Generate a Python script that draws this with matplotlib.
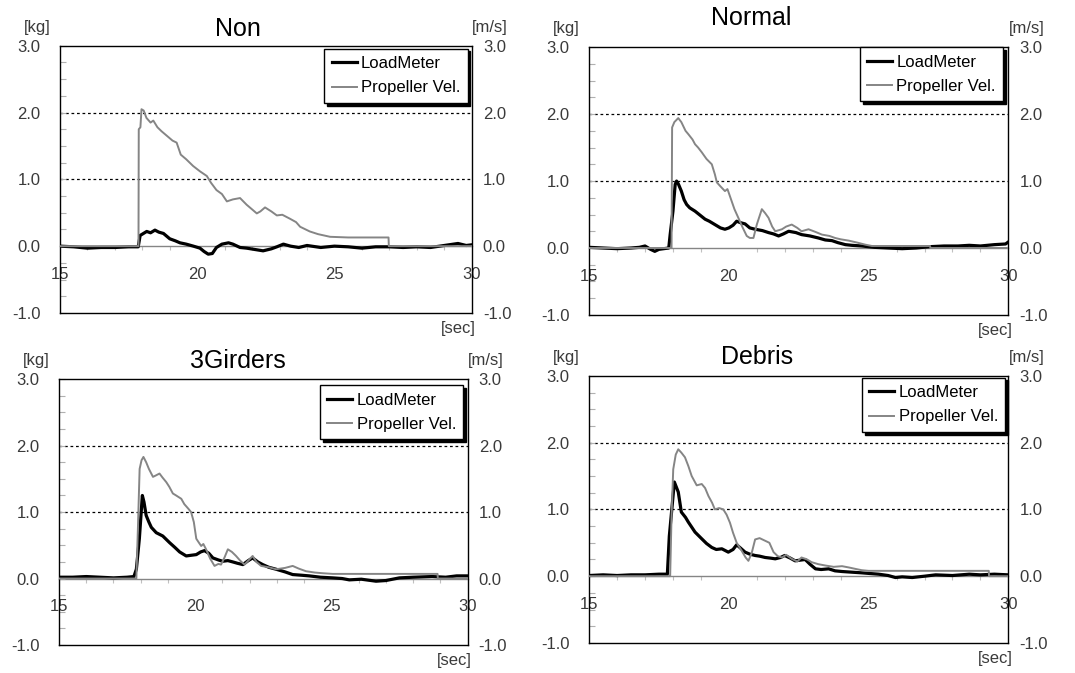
import matplotlib
matplotlib.use("Agg")
import matplotlib.pyplot as plt
from matplotlib.ticker import MultipleLocator, FixedLocator

plt.rcParams['font.family'] = ['Liberation Sans', 'DejaVu Sans']

titles = ["Non", "Normal", "3Girders", "Debris"]
legend_labels = ["LoadMeter", "Propeller Vel."]
x_ticks = [15, 20, 25, 30]
y_ticks = [-1.0, 0.0, 1.0, 2.0, 3.0]
y_tick_labels = ["-1.0", "0.0", "1.0", "2.0", "3.0"]

# ---- Non ----
non_prop_t = [15, 17.86, 17.87, 17.93, 17.97, 18.05, 18.15, 18.3, 18.4, 18.55, 18.7, 18.9, 19.1, 19.25, 19.4,
              19.6, 19.85, 20.1, 20.35, 20.5, 20.7, 20.9, 21.08, 21.3, 21.56, 21.8, 22.0, 22.17, 22.3, 22.47,
              22.7, 22.9, 23.1, 23.38, 23.6, 23.75, 23.95, 24.1, 24.4, 24.84, 25.5, 26.2, 26.97, 26.98, 30]
non_prop_v = [0, 0, 1.75, 1.78, 2.05, 2.03, 1.92, 1.85, 1.88, 1.78, 1.72, 1.65, 1.58, 1.55, 1.37,
              1.30, 1.20, 1.12, 1.05, 0.95, 0.84, 0.78, 0.67, 0.70, 0.72, 0.62, 0.55, 0.49, 0.52, 0.58,
              0.52, 0.46, 0.47, 0.41, 0.36, 0.29, 0.25, 0.22, 0.18, 0.14, 0.13, 0.13, 0.13, 0.0, 0.0]
non_load_t = [15, 15.5, 16.0, 16.5, 17.0, 17.5, 17.85, 17.92, 18.0, 18.16, 18.3, 18.46, 18.6, 18.77, 19.0,
              19.2, 19.37, 19.6, 19.86, 20.1, 20.25, 20.4, 20.55, 20.7, 20.9, 21.14, 21.3, 21.56, 21.8, 22.1,
              22.4, 22.7, 22.9, 23.14, 23.4, 23.7, 24.0, 24.5, 25.0, 25.5, 26.0, 26.5, 27.0, 27.5, 28.0,
              28.5, 29.0, 29.5, 29.8, 30]
non_load_v = [0.0, -0.01, -0.03, -0.02, -0.02, -0.01, -0.01, 0.16, 0.18, 0.22, 0.20, 0.24, 0.21, 0.19, 0.11,
              0.08, 0.05, 0.03, 0.0, -0.03, -0.08, -0.12, -0.11, -0.02, 0.03, 0.05, 0.03, -0.02, -0.03, -0.05,
              -0.07, -0.04, -0.01, 0.03, 0.0, -0.02, 0.01, -0.02, 0.0, -0.01, -0.03, -0.01, -0.01, -0.02, -0.01,
              -0.02, 0.01, 0.04, 0.01, 0.02]

# ---- Normal ----
normal_prop_t = [15, 17.95, 17.97, 18.05, 18.19, 18.3, 18.45, 18.55, 18.7, 18.79, 18.9, 19.03, 19.2, 19.39,
                 19.5, 19.57, 19.7, 19.86, 19.95, 20.1, 20.2, 20.34, 20.5, 20.64, 20.75, 20.88, 21.0, 21.18,
                 21.3, 21.42, 21.55, 21.66, 21.9, 22.05, 22.25, 22.45, 22.6, 22.85, 23.1, 23.33, 23.6, 23.8,
                 24.0, 24.29, 24.6, 24.88, 25.12, 26.0, 27.2, 27.21, 30]
normal_prop_v = [0, 0, 1.80, 1.88, 1.94, 1.88, 1.75, 1.70, 1.62, 1.55, 1.50, 1.43, 1.33, 1.25,
                 1.10, 0.98, 0.92, 0.85, 0.88, 0.70, 0.58, 0.45, 0.30, 0.18, 0.15, 0.15, 0.35, 0.58,
                 0.52, 0.45, 0.32, 0.25, 0.28, 0.32, 0.35, 0.30, 0.25, 0.28, 0.24, 0.20, 0.18, 0.15,
                 0.13, 0.11, 0.08, 0.05, 0.03, 0.03, 0.03, 0.0, 0.0]
normal_load_t = [15, 15.5, 16.0, 16.5, 16.8, 17.0, 17.2, 17.35, 17.5, 17.85, 17.9, 18.0, 18.08, 18.13, 18.2,
                 18.3, 18.4, 18.49, 18.6, 18.79, 19.0, 19.15, 19.3, 19.5, 19.7, 19.86, 20.0, 20.15, 20.28,
                 20.4, 20.58, 20.75, 20.94, 21.2, 21.42, 21.6, 21.78, 21.95, 22.14, 22.4, 22.6, 22.9, 23.2,
                 23.45, 23.69, 23.9, 24.17, 24.4, 24.76, 25.2, 25.7, 26.2, 26.7, 27.2, 27.7, 28.2, 28.6,
                 29.0, 29.5, 29.9, 30]
normal_load_v = [0.01, 0.0, -0.01, 0.0, 0.01, 0.03, -0.02, -0.05, -0.02, 0.0, 0.2, 0.55, 0.95, 1.0, 0.95,
                 0.85, 0.72, 0.65, 0.60, 0.55, 0.48, 0.43, 0.40, 0.35, 0.30, 0.28, 0.30, 0.34, 0.40,
                 0.38, 0.36, 0.30, 0.28, 0.26, 0.23, 0.21, 0.18, 0.21, 0.25, 0.23, 0.20, 0.18, 0.15,
                 0.12, 0.11, 0.08, 0.05, 0.04, 0.03, 0.01, 0.0, -0.01, 0.0, 0.02, 0.03, 0.03, 0.04,
                 0.03, 0.05, 0.06, 0.09]

# ---- 3Girders ----
girders_prop_t = [15, 17.84, 17.9, 17.96, 18.03, 18.1, 18.2, 18.3, 18.45, 18.55, 18.69, 18.8, 18.94, 19.05,
                  19.18, 19.3, 19.49, 19.6, 19.75, 19.85, 19.95, 20.04, 20.12, 20.22, 20.3, 20.4, 20.55,
                  20.71, 20.85, 20.95, 21.08, 21.2, 21.35, 21.5, 21.65, 21.81, 21.95, 22.11, 22.25, 22.42,
                  22.7, 22.97, 23.3, 23.58, 23.8, 24.07, 24.4, 24.68, 25.05, 26.5, 28.9, 28.91, 30]
girders_prop_v = [0, 0, 0.8, 1.65, 1.78, 1.83, 1.75, 1.65, 1.53, 1.55, 1.58, 1.52, 1.45, 1.38,
                  1.28, 1.25, 1.20, 1.12, 1.05, 1.0, 0.85, 0.60, 0.55, 0.49, 0.52, 0.44, 0.30,
                  0.19, 0.22, 0.21, 0.32, 0.44, 0.40, 0.34, 0.27, 0.21, 0.27, 0.34, 0.25, 0.19,
                  0.17, 0.14, 0.16, 0.19, 0.15, 0.11, 0.09, 0.08, 0.07, 0.07, 0.07, 0.0, 0.0]
girders_load_t = [15, 15.5, 16.0, 16.5, 17.0, 17.5, 17.75, 17.84, 17.95, 18.06, 18.12, 18.2, 18.3, 18.39,
                  18.57, 18.81, 19.06, 19.25, 19.43, 19.67, 19.85, 20.04, 20.2, 20.34, 20.5, 20.65, 20.85,
                  21.01, 21.2, 21.38, 21.55, 21.75, 21.95, 22.11, 22.3, 22.48, 22.7, 22.97, 23.3, 23.58,
                  23.9, 24.19, 24.6, 25.05, 25.4, 25.66, 26.1, 26.64, 27.0, 27.5, 28.0, 28.7, 29.2, 29.6, 30]
girders_load_v = [0.02, 0.02, 0.03, 0.02, 0.01, 0.02, 0.03, 0.14, 0.6, 1.25, 1.15, 0.95, 0.85, 0.77,
                  0.69, 0.64, 0.54, 0.47, 0.40, 0.34, 0.35, 0.36, 0.40, 0.42, 0.38, 0.31, 0.28,
                  0.26, 0.27, 0.25, 0.23, 0.21, 0.27, 0.31, 0.25, 0.21, 0.17, 0.14, 0.10, 0.06,
                  0.05, 0.04, 0.02, 0.01, 0.0, -0.02, -0.01, -0.04, -0.03, 0.01, 0.02, 0.03, 0.02, 0.04, 0.04]

# ---- Debris ----
debris_prop_t = [15, 17.9, 17.95, 18.01, 18.1, 18.19, 18.3, 18.43, 18.55, 18.67, 18.85, 19.03, 19.15, 19.27,
                 19.4, 19.5, 19.65, 19.8, 19.92, 20.04, 20.15, 20.28, 20.46, 20.6, 20.7, 20.82, 20.94, 21.1,
                 21.3, 21.45, 21.6, 21.75, 21.9, 22.05, 22.25, 22.45, 22.6, 22.8, 22.96, 23.2, 23.45, 23.75,
                 24.05, 24.3, 24.52, 24.75, 25.0, 27.0, 29.3, 29.31, 30]
debris_prop_v = [0, 0, 0.9, 1.6, 1.82, 1.90, 1.85, 1.78, 1.65, 1.50, 1.36, 1.38, 1.32, 1.20,
                 1.10, 1.0, 1.02, 1.0, 0.92, 0.80, 0.65, 0.50, 0.38, 0.28, 0.23, 0.35, 0.55, 0.57,
                 0.53, 0.50, 0.36, 0.30, 0.28, 0.32, 0.26, 0.22, 0.28, 0.25, 0.21, 0.18, 0.16, 0.14,
                 0.15, 0.13, 0.11, 0.09, 0.08, 0.08, 0.08, 0.0, 0.0]
debris_load_t = [15, 15.5, 16.0, 16.5, 17.0, 17.5, 17.8, 17.87, 17.95, 18.05, 18.19, 18.3, 18.45, 18.55,
                 18.79, 19.03, 19.2, 19.39, 19.55, 19.75, 19.98, 20.15, 20.28, 20.42, 20.58, 20.75, 20.94,
                 21.1, 21.3, 21.5, 21.66, 21.85, 22.0, 22.2, 22.37, 22.55, 22.73, 22.9, 23.1, 23.3, 23.57,
                 23.8, 24.05, 24.4, 24.76, 25.05, 25.36, 25.7, 25.96, 26.2, 26.56, 27.0, 27.4, 28.0, 28.6,
                 29.0, 29.5, 30]
debris_load_v = [0.01, 0.02, 0.01, 0.02, 0.02, 0.03, 0.03, 0.6, 0.96, 1.41, 1.26, 0.96, 0.88, 0.81,
                 0.66, 0.56, 0.49, 0.43, 0.40, 0.41, 0.36, 0.40, 0.47, 0.42, 0.36, 0.33, 0.31,
                 0.30, 0.28, 0.27, 0.26, 0.28, 0.31, 0.27, 0.23, 0.24, 0.25, 0.18, 0.11, 0.10, 0.11,
                 0.08, 0.07, 0.06, 0.05, 0.04, 0.03, 0.01, -0.02, -0.01, -0.02, 0.0, 0.02, 0.01, 0.03,
                 0.02, 0.03, 0.02]

load_series = [(non_load_t, non_load_v), (normal_load_t, normal_load_v),
               (girders_load_t, girders_load_v), (debris_load_t, debris_load_v)]
prop_series = [(non_prop_t, non_prop_v), (normal_prop_t, normal_prop_v),
               (girders_prop_t, girders_prop_v), (debris_prop_t, debris_prop_v)]

# layout (figure fractions) and decorations
axes_rects = [[0.0558, 0.535, 0.383, 0.397],
              [0.548, 0.532, 0.390, 0.398],
              [0.0549, 0.0416, 0.380, 0.395],
              [0.548, 0.0446, 0.390, 0.397]]
title_pos = [(0.432, 1.064), (0.387, 1.108), (0.438, 1.068), (0.400, 1.071)]
legend_anchor = [(0.990, 0.989), (0.988, 1.0), (0.990, 0.977), (0.993, 0.993)]

LABEL_COLOR = '#3a3a3a'
GREY = '#858585'

fig = plt.figure(figsize=(10.75, 6.73), dpi=100)
fig.patch.set_facecolor('white')

for i in range(4):
    ax = fig.add_axes(axes_rects[i])
    lt, lv = load_series[i]
    pt, pv = prop_series[i]
    l1, = ax.plot(lt, lv, color='black', lw=2.3, label=legend_labels[0], zorder=3)
    l2, = ax.plot(pt, pv, color=GREY, lw=1.4, label=legend_labels[1], zorder=3)

    ax.set_xlim(15, 30)
    ax.set_ylim(-1, 3)
    for s in ax.spines.values():
        s.set_linewidth(1.0)
        s.set_color('black')

    # y axis (left)
    ax.yaxis.set_major_locator(FixedLocator(y_ticks))
    ax.set_yticklabels(y_tick_labels)
    ax.yaxis.set_minor_locator(MultipleLocator(0.25))
    ax.tick_params(axis='y', which='both', direction='in', length=4, width=0.8,
                   color='#b0b0b0', left=True, right=True, labelsize=12,
                   labelcolor=LABEL_COLOR, pad=14)
    # x axis of the main box: no ticks
    ax.tick_params(axis='x', which='both', bottom=False, top=False, labelbottom=False)

    # dashed grid lines at 1.0 and 2.0
    ax.yaxis.grid(True, which='major', color='black', linestyle=(0, (2.2, 2.2)), linewidth=0.9)
    for val, gl in zip(y_ticks, ax.get_ygridlines()):
        if val not in (1.0, 2.0):
            gl.set_visible(False)

    # right axis labels
    ax2 = ax.twinx()
    ax2.set_ylim(-1, 3)
    ax2.yaxis.set_major_locator(FixedLocator(y_ticks))
    ax2.set_yticklabels(y_tick_labels)
    ax2.tick_params(axis='y', which='both', direction='in', length=0, labelsize=12,
                    labelcolor=LABEL_COLOR, pad=8)
    for s in ax2.spines.values():
        s.set_visible(False)

    # x axis at y = 0
    sec = ax.secondary_xaxis(0.25)
    sec.set_xticks(x_ticks)
    sec.set_xticklabels([str(v) for v in x_ticks])
    sec.xaxis.set_minor_locator(MultipleLocator(1))
    sec.tick_params(axis='x', which='major', length=0, pad=15, labelsize=12, labelcolor=LABEL_COLOR)
    sec.tick_params(axis='x', which='minor', direction='out', length=3, width=0.8, color='#c0c0c0')
    sec.spines['bottom'].set_color(GREY)
    sec.spines['bottom'].set_linewidth(1.0)

    # titles and unit labels
    ax.text(title_pos[i][0], title_pos[i][1], titles[i], transform=ax.transAxes,
            ha='center', va='center', fontsize=18, color='black')
    ax.text(-0.055, 1.07, "[kg]", transform=ax.transAxes, ha='center', va='center',
            fontsize=12, color=LABEL_COLOR)
    ax.text(1.045, 1.07, "[m/s]", transform=ax.transAxes, ha='center', va='center',
            fontsize=12, color=LABEL_COLOR)
    ax.text(0.968, -0.058, "[sec]", transform=ax.transAxes, ha='center', va='center',
            fontsize=12, color=LABEL_COLOR)

    leg = ax2.legend(handles=[l1, l2], loc='upper right', bbox_to_anchor=legend_anchor[i],
                     bbox_transform=ax.transAxes, borderaxespad=0, fontsize=12,
                     fancybox=False, framealpha=1, edgecolor='black',
                     shadow={'color': 'black', 'alpha': 1.0},
                     handlelength=1.5, handletextpad=0.25, labelspacing=0.55,
                     borderpad=0.45)
    leg.get_frame().set_linewidth(1.0)
    leg.set_zorder(10)

fig.savefig("out.png", dpi=100, facecolor='white')
